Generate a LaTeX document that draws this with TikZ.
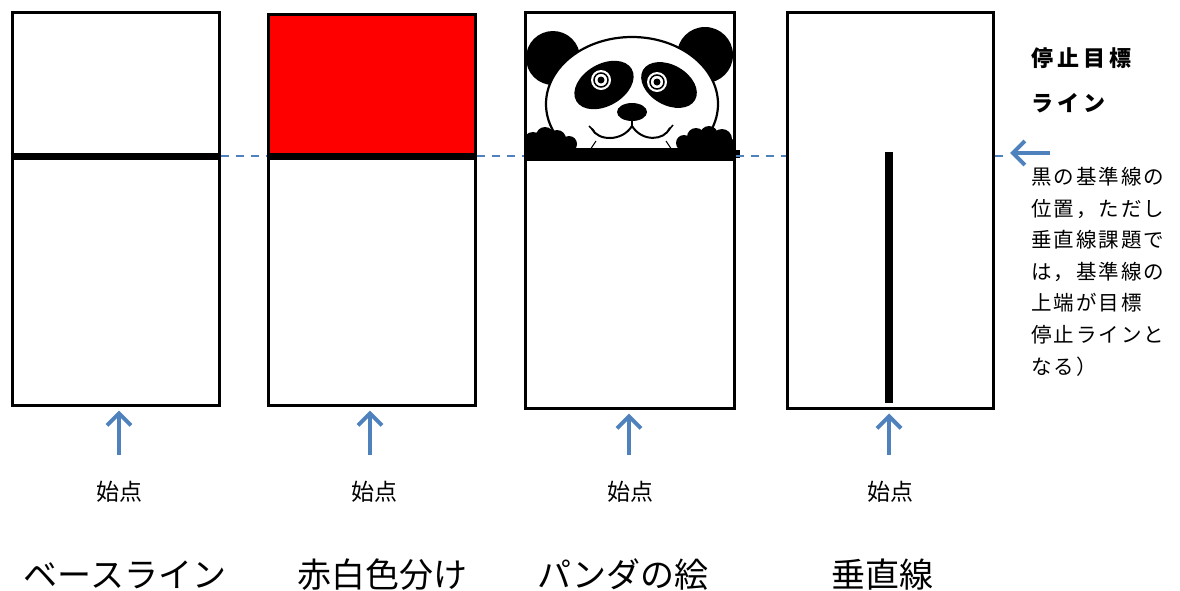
\documentclass[tikz,border=0pt]{standalone}
\usepackage{fontspec}
\setmainfont{Noto Sans CJK JP}
\newfontfamily\jpspaced[LetterSpace=10]{Noto Sans CJK JP}
\newfontfamily\jpwide[LetterSpace=18]{Noto Sans CJK JP}
\usetikzlibrary{arrows.meta}
\usetikzlibrary{positioning}

\definecolor{guideblue}{HTML}{4F81BD}
\definecolor{stopred}{HTML}{FF0000}

\tikzset{
  panel/.style={draw, line width=3pt, inner sep=0pt, minimum width=207pt, minimum height=393pt},
  refline/.style={line width=7pt},
  guide/.style={draw=guideblue, line width=1.5pt, dash pattern=on 8pt off 7pt},
  pointer/.style={draw=guideblue, line width=4pt, shorten >=4pt,
    -{Straight Barb[length=12pt,width=24pt,line width=4pt]}},
  startmark/.style={font=\fontsize{23}{26}\selectfont},
  caption/.style={font=\fontsize{34}{38}\selectfont},
  heading/.style={font=\jpwide\bfseries\fontsize{22}{26}\selectfont, anchor=west, inner sep=0pt},
  note/.style={font=\jpspaced\fontsize{20.5}{31.6}\selectfont, align=left, anchor=north west, inner sep=0pt}
}

\begin{document}
\begin{tikzpicture}[x=1pt, y=-1pt]
  \useasboundingbox (0,0) rectangle (1180,590);
  \coordinate (stop) at (0,156);

  % red upper half
  \fill[stopred] (268,14) rectangle (475,156);

  % panda face
  \begin{scope}
    \clip (525,12) rectangle (734,160);
    \fill (553,58) circle (27);
    \fill (705,55) circle (28);
    \draw[line width=2.2pt, fill=white] (632,104) ellipse (86 and 67);
    \fill[rotate around={30:(604,85)}] (604,85) ellipse (32 and 21);
    \fill[rotate around={-30:(669,85)}] (669,85) ellipse (30 and 20);
    \fill[white] (601,80) circle (10);
    \draw[line width=1.5pt, fill=white] (601,80) circle (7);
    \fill (601,80) circle (3.5);
    \fill[white] (657,82) circle (10);
    \draw[line width=1.5pt, fill=white] (657,82) circle (7);
    \fill (657,82) circle (3.5);
    \fill (632,112) ellipse (15 and 9);
    \draw[line width=2pt, line cap=round] (632,118) -- (632,126);
    \draw[line width=2pt, line cap=round] (592,129) .. controls (598,141) and (622,142) .. (632,126)
      .. controls (642,142) and (664,141) .. (670,128);
    \draw[line width=1.5pt] (589,126) -- (594,131) (673,125) -- (668,131);
    % paws
    \fill (533,142) circle (10) (545,136) circle (9) (557,139) circle (9) (569,144) circle (8)
      (539,150) circle (10) (556,150) circle (10);
    \fill (684,143) circle (8) (696,137) circle (9) (709,135) circle (9) (722,139) circle (10)
      (728,147) circle (9) (700,150) circle (10) (716,150) circle (10);
    \draw[line width=1pt] (590,150) -- (596,141) (672,150) -- (666,141);
    \fill (525,148) rectangle (734,163);
  \end{scope}
  \fill (733,150) rectangle (740,158);

  % vertical bar
  \fill (885,152) rectangle (893,403);

  % panels
  \node[panel] (base) at (115.5,208.5) {};
  \node[panel, minimum height=391pt] (redwhite) at (371.5,209.5) {};
  \node[panel, minimum width=209pt, minimum height=396pt] (panda) at (629.5,210) {};
  \node[panel, minimum width=206pt, minimum height=396pt] (vert) at (890,210) {};

  % reference lines
  \draw[refline] (base.west |- stop) -- (base.east |- stop);
  \draw[refline] (redwhite.west |- stop) -- (redwhite.east |- stop);

  % target line
  \draw[guide] (base.east |- stop) -- (redwhite.west |- stop);
  \draw[guide] (redwhite.east |- stop) -- (panda.west |- stop);
  \draw[guide] (panda.east |- stop) -- (vert.west |- stop);
  \draw[guide] (vert.east |- stop) -- ++(13,0);
  \coordinate (tipR) at (1010,153);
  \coordinate (tailR) at (1050,153);
  \draw[pointer, shorten >=0pt] (tailR) -- (tipR);

  % start arrows
  \foreach \p/\ax/\sx in {base/119/119, redwhite/370/374, panda/629/630, vert/889/890} {
    \coordinate (tail-\p) at (\ax,455);
    \draw[pointer] (tail-\p) -- (tail-\p |- \p.south);
    \node[startmark] (start-\p) at (\sx,492) {始点};
  }

  % captions
  \node[caption] (cap-base) at (125,575) {ベースライン};
  \node[caption] (cap-redwhite) at (382,575) {赤白色分け};
  \node[caption] (cap-panda) at (623,575) {パンダの絵};
  \node[caption] (cap-vert) at (882,575) {垂直線};

  % explanation
  \node[heading] (goal) at (1031,58) {停止目標};
  \node[heading] (goal2) at (1031,103) {ライン};
  \node[note] (explain) at (1031,167) {黒の基準線の\\位置，ただし\\垂直線課題で\\は，基準線の\\上端が目標\\停止ラインと\\なる）};
\end{tikzpicture}
\end{document}
